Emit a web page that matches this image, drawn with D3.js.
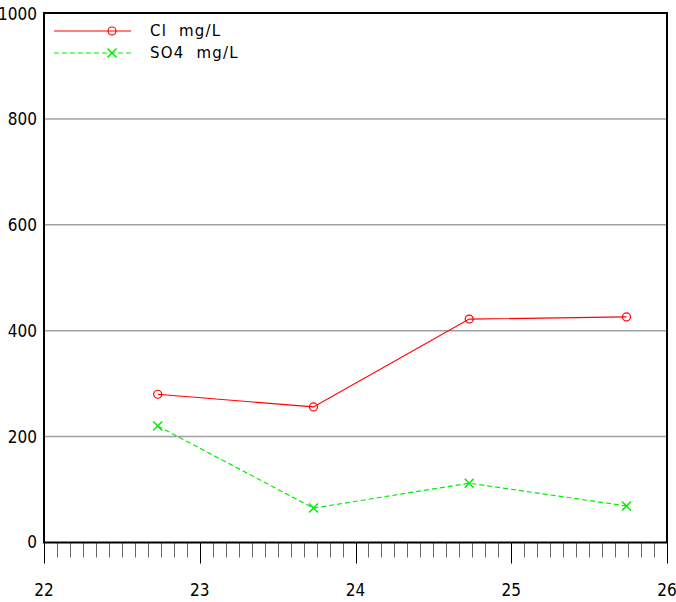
<!DOCTYPE html>
<html><head><meta charset="utf-8">
<script src="https://cdn.jsdelivr.net/npm/d3@7"></script>
<style>body{margin:0;background:#fff}svg{display:block}</style>
</head><body>
<script>
const xValues = [22.73, 23.73, 24.73, 25.74];
const clValues = [280, 256, 422, 426];
const so4Values = [220, 65, 112, 69];
const seriesNames = ["Cl mg/L", "SO4 mg/L"];
const yTicks = [0, 200, 400, 600, 800, 1000];
const xTicks = [22, 23, 24, 25, 26];

const W = 676, H = 602;
const m = {l: 44, r: 9, t: 13, b: 60};
const svg = d3.select("body").append("svg").attr("width", W).attr("height", H);
const x = d3.scaleLinear().domain([22, 26]).range([m.l, W - m.r]);
const y = d3.scaleLinear().domain([0, 1000]).range([H - m.b + 0.5, m.t]);
const numFont = "'Liberation Sans Narrow','Arial Narrow','DejaVu Sans Condensed',sans-serif";

// grid
svg.append("g").selectAll("line").data(yTicks.filter(d => d > 0 && d < 1000)).join("line")
  .attr("x1", m.l).attr("x2", W - m.r).attr("y1", d => y(d)).attr("y2", d => y(d))
  .attr("stroke", "#a0a0a0").attr("stroke-width", 1.5);

// minor ticks (monthly)
const minor = d3.range(22, 26 + 1e-9, 1 / 12);
const isMajor = d => Math.abs(d - Math.round(d)) < 1e-6;
svg.append("g").selectAll("line").data(minor).join("line")
  .attr("x1", d => Math.round(x(d)) + 0.5).attr("x2", d => Math.round(x(d)) + 0.5)
  .attr("y1", y(0)).attr("y2", d => isMajor(d) ? y(0) + 21 : y(0) + 15)
  .attr("stroke", d => isMajor(d) ? "#000" : "#666").attr("stroke-width", 1);

// frame
svg.append("rect").attr("x", m.l).attr("y", m.t).attr("width", W - m.r - m.l).attr("height", y(0) - m.t)
  .attr("fill", "none").attr("stroke", "#000").attr("stroke-width", 2);

// y labels
svg.append("g").selectAll("text").data(yTicks).join("text")
  .attr("x", 37).attr("y", d => y(d) + (d === 1000 ? 1 : 0)).attr("dy", "0.35em").attr("text-anchor", "end")
  .attr("font-family", numFont).attr("font-size", 17).text(d => d);

// x labels
svg.append("g").selectAll("text").data(xTicks).join("text")
  .attr("x", d => x(d)).attr("y", 590).attr("dy", "0.35em").attr("text-anchor", "middle")
  .attr("font-family", numFont).attr("font-size", 17).text(d => d);

const line = d3.line().x(d => x(d[0])).y(d => y(d[1]));
const cl = xValues.map((v, i) => [v, clValues[i]]);
const so4 = xValues.map((v, i) => [v, so4Values[i]]);

svg.append("path").attr("d", line(cl)).attr("fill", "none").attr("stroke", "#ff0000").attr("stroke-width", 1.2);
svg.append("g").selectAll("circle").data(cl).join("circle")
  .attr("cx", d => x(d[0])).attr("cy", d => y(d[1])).attr("r", 4)
  .attr("fill", "none").attr("stroke", "#ff0000").attr("stroke-width", 1.2);

svg.append("path").attr("d", line(so4)).attr("fill", "none").attr("stroke", "#00ee00").attr("stroke-width", 1.2)
  .attr("stroke-dasharray", "5,3");
const cross = (g, cx, cy, s) => {
  g.append("path").attr("d", `M${cx - s},${cy - s}L${cx + s},${cy + s}M${cx - s},${cy + s}L${cx + s},${cy - s}`)
    .attr("stroke", "#00ee00").attr("stroke-width", 1.5).attr("fill", "none");
};
const gx = svg.append("g");
so4.forEach(d => cross(gx, x(d[0]), y(d[1]), 4.5));

// legend
const lg = svg.append("g");
lg.append("line").attr("x1", 54).attr("x2", 131).attr("y1", 31).attr("y2", 31).attr("stroke", "#ff0000").attr("stroke-width", 1.2);
lg.append("circle").attr("cx", 112).attr("cy", 31).attr("r", 4).attr("fill", "none").attr("stroke", "#ff0000").attr("stroke-width", 1.2);
lg.append("line").attr("x1", 54).attr("x2", 131).attr("y1", 53).attr("y2", 53).attr("stroke", "#00ee00").attr("stroke-width", 1.2).attr("stroke-dasharray", "5,3");
cross(lg, 112, 53, 4.5);
lg.selectAll("text").data(seriesNames).join("text")
  .attr("x", 150).attr("y", (d, i) => 31 + i * 22).attr("dy", "0.36em")
  .attr("font-family", "'DejaVu Sans',sans-serif").attr("font-size", 15).attr("letter-spacing", 1.2)
  .style("white-space", "pre")
  .text(d => d.replace(" ", "  "));
</script>
</body></html>
